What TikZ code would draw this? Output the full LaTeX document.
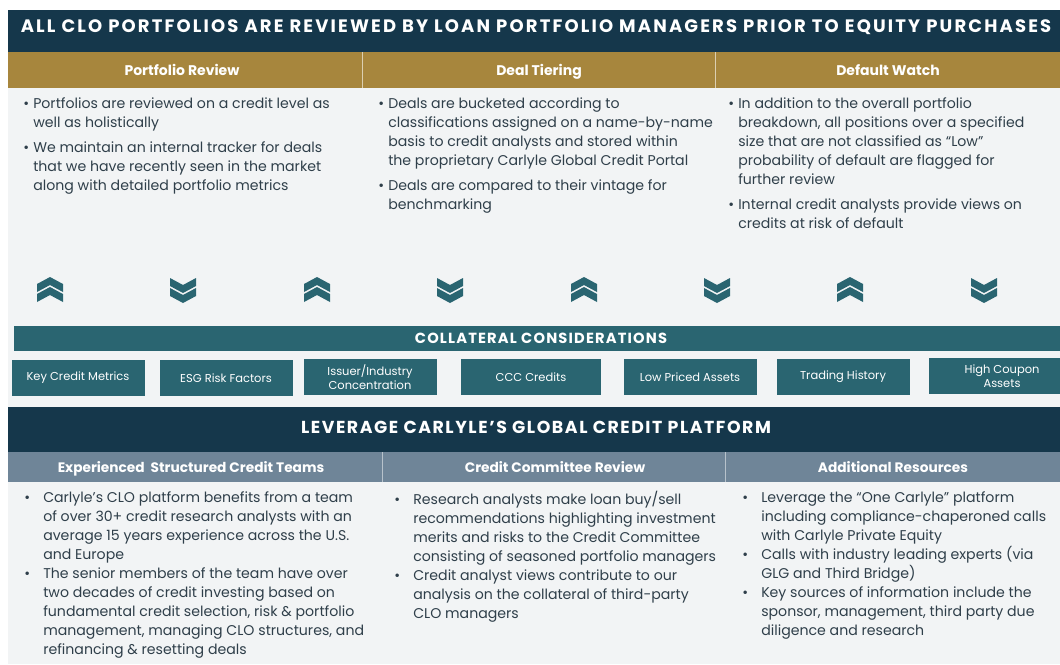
\documentclass[tikz,border=0pt]{standalone}
\usepackage{fontspec}
\setmainfont{Poppins}
\definecolor{navy}{HTML}{15374B}
\definecolor{gold}{HTML}{A7863D}
\definecolor{teal}{HTML}{2A6571}
\definecolor{slate}{HTML}{6F8598}
\definecolor{paper}{HTML}{F2F4F5}
\definecolor{ink}{HTML}{2F3F4A}
\newcommand{\bul}[1]{\makebox[#1][l]{•}}
\tikzset{
	bodytext/.style={anchor=north west, inner sep=0pt, align=left, text=ink, font=\fontsize{10.6}{14.25}\selectfont},
	bigcaps/.style={anchor=base, inner sep=0pt, text=white, font=\fontsize{13.5}{15}\selectfont\bfseries\addfontfeatures{LetterSpace=12}},
	midcaps/.style={anchor=base, inner sep=0pt, text=white, font=\fontsize{11}{12}\selectfont\bfseries\addfontfeatures{LetterSpace=8}},
	goldhead/.style={anchor=base, inner sep=0pt, text=white, font=\fontsize{10.5}{12}\selectfont\bfseries},
	slatehead/.style={anchor=base, inner sep=0pt, text=white, font=\fontsize{10.3}{12}\selectfont\bfseries},
	factor/.style={fill=teal, text=white, inner sep=0pt, minimum width=99.75pt, minimum height=27pt, align=center, font=\fontsize{8.6}{10.5}\selectfont},
}
\begin{document}
\begin{tikzpicture}[x=0.75pt, y=-0.75pt, line join=round]
	\useasboundingbox (0,0) rectangle (1060,664);
	% panels
	\fill[paper] (8,10) rectangle (1060,664);
	\fill[navy] (8,10) rectangle (1060,52);
	\fill[gold] (8,52) rectangle (1060,88);
	\draw[gold!40!white, line width=0.6pt] (362,52) -- (362,88) (715,52) -- (715,88);
	\fill[teal] (14,326) rectangle (1060,351);
	\fill[navy] (8,407) rectangle (1060,452);
	\fill[slate] (8,452) rectangle (1060,482);
	\draw[slate!50!white, line width=0.6pt] (382,452) -- (382,482) (725,452) -- (725,482);
	% headings
	\node[bigcaps] (title) at (536,32) {ALL CLO PORTFOLIOS ARE REVIEWED BY LOAN PORTFOLIO MANAGERS PRIOR TO EQUITY PURCHASES};
	\node[goldhead] (review) at (182,75) {Portfolio Review};
	\node[goldhead] (tiering) at (539,75) {Deal Tiering};
	\node[goldhead] (watch) at (888,75) {Default Watch};
	% top bullets
	\node[bodytext] (reviewtext) at (23,97) {\bul{7.5pt}Portfolios are reviewed on a credit level as\\
		\hspace*{7.5pt}well as holistically\\[4.5pt]
		\bul{7.5pt}We maintain an internal tracker for deals\\
		\hspace*{7.5pt}that we have recently seen in the market\\
		\hspace*{7.5pt}along with detailed portfolio metrics};
	\node[bodytext] (tieringtext) at (378,97) {\bul{7.5pt}Deals are bucketed according to\\
		\hspace*{7.5pt}classifications assigned on a name-by-name\\
		\hspace*{7.5pt}basis to credit analysts and stored within\\
		\hspace*{7.5pt}the proprietary Carlyle Global Credit Portal\\[4.5pt]
		\bul{7.5pt}Deals are compared to their vintage for\\
		\hspace*{7.5pt}benchmarking};
	\node[bodytext] (watchtext) at (728,97) {\bul{7.5pt}In addition to the overall portfolio\\
		\hspace*{7.5pt}breakdown, all positions over a specified\\
		\hspace*{7.5pt}size that are not classified as “Low”\\
		\hspace*{7.5pt}probability of default are flagged for\\
		\hspace*{7.5pt}further review\\[4.5pt]
		\bul{7.5pt}Internal credit analysts provide views on\\
		\hspace*{7.5pt}credits at risk of default};
	% chevrons
	\foreach \cx/\dir in {50/1,183/-1,317/1,450/-1,584/1,717/-1,850/1,984/-1}{
		\begin{scope}[shift={(\cx,290)}, yscale=\dir]
			\fill[teal] (-13,-6) -- (0,-13) -- (13,-6) -- (13,2) -- (0,-5) -- (-13,2) -- cycle;
			\fill[teal] (-13,4) -- (0,-3) -- (13,4) -- (13,12) -- (0,5) -- (-13,12) -- cycle;
		\end{scope}
	}
	% collateral
	\node[midcaps] (collateral) at (541,343) {COLLATERAL CONSIDERATIONS};
	\node[factor] (metrics) at (78,378) {Key Credit Metrics};
	\node[factor] (esg) at (226,378) {ESG Risk Factors};
	\node[factor] (issuer) at (370,377) {Issuer/Industry\\Concentration};
	\node[factor, minimum width=105pt] (ccc) at (531,377) {CCC Credits};
	\node[factor] (lowpriced) at (690,377) {Low Priced Assets};
	\node[factor] (trading) at (843,377) {Trading History};
	\node[factor, minimum width=109.5pt] (coupon) at (1002,376) {High Coupon\\Assets};
	% platform
	\node[bigcaps, font=\fontsize{13}{15}\selectfont\bfseries\addfontfeatures{LetterSpace=9}] (platform) at (536,433) {LEVERAGE CARLYLE’S GLOBAL CREDIT PLATFORM};
	\node[slatehead] (teams) at (191,472) {Experienced\ \ Structured Credit Teams};
	\node[slatehead] (committee) at (555,472) {Credit Committee Review};
	\node[slatehead] (resources) at (893,472) {Additional Resources};
	% bottom bullets
	\node[bodytext] (teamstext) at (24,491) {\bul{14.25pt}Carlyle’s CLO platform benefits from a team\\
		\hspace*{14.25pt}of over 30+ credit research analysts with an\\
		\hspace*{14.25pt}average 15 years experience across the U.S.\\
		\hspace*{14.25pt}and Europe\\
		\bul{14.25pt}The senior members of the team have over\\
		\hspace*{14.25pt}two decades of credit investing based on\\
		\hspace*{14.25pt}fundamental credit selection, risk \& portfolio\\
		\hspace*{14.25pt}management, managing CLO structures, and\\
		\hspace*{14.25pt}refinancing \& resetting deals};
	\node[bodytext] (committeetext) at (394,491) {\bul{14.25pt}Research analysts make loan buy/sell\\
		\hspace*{14.25pt}recommendations highlighting investment\\
		\hspace*{14.25pt}merits and risks to the Credit Committee\\
		\hspace*{14.25pt}consisting of seasoned portfolio managers\\
		\bul{14.25pt}Credit analyst views contribute to our\\
		\hspace*{14.25pt}analysis on the collateral of third-party\\
		\hspace*{14.25pt}CLO managers};
	\node[bodytext] (resourcestext) at (742,491) {\bul{14.25pt}Leverage the “One Carlyle” platform\\
		\hspace*{14.25pt}including compliance-chaperoned calls\\
		\hspace*{14.25pt}with Carlyle Private Equity\\
		\bul{14.25pt}Calls with industry leading experts (via\\
		\hspace*{14.25pt}GLG and Third Bridge)\\
		\bul{14.25pt}Key sources of information include the\\
		\hspace*{14.25pt}sponsor, management, third party due\\
		\hspace*{14.25pt}diligence and research};
\end{tikzpicture}
\end{document}
